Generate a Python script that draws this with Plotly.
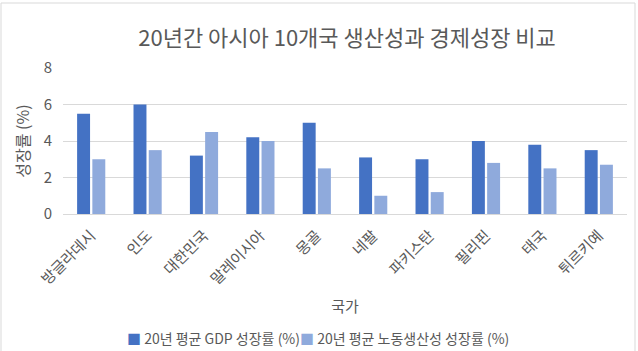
import plotly.graph_objects as go

countries = ["방글라데시", "인도", "대한민국", "말레이시아", "몽골", "네팔", "파키스탄", "필리핀", "태국", "튀르키예"]
gdp_growth = [5.5, 6.0, 3.2, 4.2, 5.0, 3.1, 3.0, 4.0, 3.8, 3.5]
labor_growth = [3.0, 3.5, 4.5, 4.0, 2.5, 1.0, 1.2, 2.8, 2.5, 2.7]
y_ticks = [0, 2, 4, 6, 8]
series_names = ["20년 평균 GDP 성장률 (%)", "20년 평균 노동생산성 성장률 (%)"]
series_colors = ["#4472C4", "#8FAADC"]

W, H = 638, 351
L, R, T, B = 63, 11, 68, 137
FONT = "Noto Sans CJK KR"
GRAY = "#595959"

fig = go.Figure()
for vals, name, col in zip([gdp_growth, labor_growth], series_names, series_colors):
    fig.add_trace(go.Bar(x=countries, y=vals, name=name, showlegend=False,
                         marker=dict(color=col, line=dict(width=0))))

pw = W - L - R
ph = H - T - B
def px_x(p): return (p - L) / pw
def px_y(p): return (H - B - p) / ph

fig.update_layout(
    width=W, height=H,
    margin=dict(l=L, r=R, t=T, b=B, autoexpand=False),
    paper_bgcolor="white", plot_bgcolor="white",
    font=dict(family=FONT, color=GRAY),
    barmode="group", bargap=0.46, bargroupgap=0.15,
    title=dict(text="20년간 아시아 10개국 생산성과 경제성장 비교",
               x=px_x(347), xref="paper", xanchor="center",
               y=1 - 38 / H, yref="container", yanchor="middle",
               font=dict(size=22, color=GRAY, family=FONT)),
    xaxis=dict(tickangle=-45, tickfont=dict(size=15, color=GRAY),
               showline=True, linecolor="#D9D9D9", linewidth=1, ticks="",
               ticklabelstandoff=6,
               title=dict(text="국가", font=dict(size=15, color=GRAY), standoff=14)),
    yaxis=dict(range=[0, 8], tickvals=y_ticks, tickfont=dict(size=15, color=GRAY),
               showgrid=True, gridcolor="#D9D9D9", gridwidth=1, zeroline=False,
               showline=False, ticks="", ticklen=0, ticklabelstandoff=10,
               title=dict(text="성장률 (%)", font=dict(size=16, color=GRAY), standoff=10)),
    showlegend=False,
)

legend_text = (f"<span style='color:{series_colors[0]}'>■</span> {series_names[0]}"
               f"<span style='color:{series_colors[1]}'>■</span> {series_names[1]}")
fig.add_annotation(text=legend_text, xref="paper", yref="paper",
                   x=px_x(318), y=px_y(338), xanchor="center", yanchor="middle",
                   showarrow=False, font=dict(size=14, color=GRAY, family=FONT))

fig.add_shape(type="rect", xref="paper", yref="paper",
              x0=px_x(1), x1=px_x(635), y0=px_y(365), y1=px_y(3),
              line=dict(color="#D9D9D9", width=1), fillcolor="rgba(0,0,0,0)", layer="below")

fig.write_html("out.html")
